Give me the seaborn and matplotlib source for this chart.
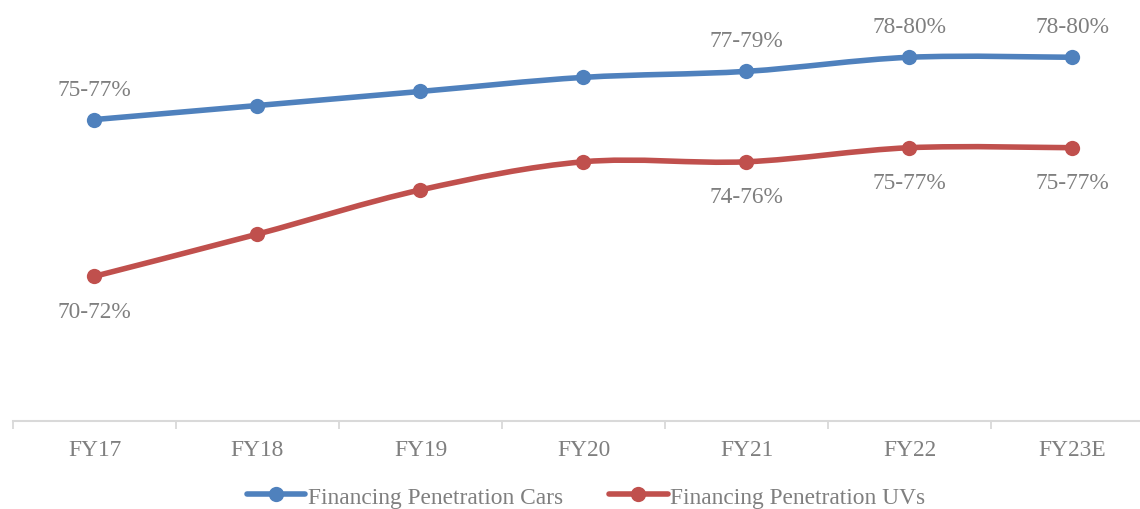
#!/usr/bin/env python3
# Financing penetration, cars vs UVs (smoothed lines, Excel style)

import numpy as np
from matplotlib import pyplot as plt
from matplotlib.path import Path
from matplotlib.patches import PathPatch
from matplotlib.lines import Line2D
import seaborn as sns

sns.set_style("white")
plt.rcParams['font.family'] = ['Liberation Serif', 'DejaVu Serif']

# Data -------------------------------------------------------------------------
years = ["FY17", "FY18", "FY19", "FY20", "FY21", "FY22", "FY23E"]
# plotted heights (arbitrary index scale)
cars = [77.0, 77.7, 78.4, 79.1, 79.4, 80.1, 80.1]
uvs = [69.2, 71.3, 73.5, 74.9, 74.9, 75.6, 75.6]
cars_labels = ["75-77%", "", "", "", "77-79%", "78-80%", "78-80%"]
uvs_labels = ["70-72%", "", "", "", "74-76%", "75-77%", "75-77%"]

BLUE = "#4f81bd"
RED = "#c0504d"
GREY = "#7f7f7f"
FS = 16.8


def smooth_path(xs, ys):
    # Excel-like smoothed line: cubic bezier between points (catmull-rom style)
    pts = np.column_stack([xs, ys]).astype(float)
    n = len(pts)
    verts = [pts[0]]
    codes = [Path.MOVETO]
    for i in range(n - 1):
        p0 = pts[i - 1] if i > 0 else pts[i]
        p1 = pts[i]
        p2 = pts[i + 1]
        p3 = pts[i + 2] if i + 2 < n else pts[i + 1]
        c1 = p1 + (p2 - p0) / 6.0
        c2 = p2 - (p3 - p1) / 6.0
        verts += [c1, c2, p2]
        codes += [Path.CURVE4] * 3
    return Path(verts, codes)


fig = plt.figure(figsize=(11.4, 5.1), dpi=100)
ax = fig.add_axes([13 / 1140, 88 / 510, 1141 / 1140, 422 / 510])

x = np.arange(len(years))
for vals, col in [(cars, BLUE), (uvs, RED)]:
    ax.add_patch(PathPatch(smooth_path(x, vals), facecolor="none",
                           edgecolor=col, lw=4, capstyle="round"))
    sns.lineplot(x=x, y=vals, ax=ax, color=col, lw=0, marker="o",
                 markersize=11, markeredgewidth=0, legend=False)

for xi, v, lab in zip(x, cars, cars_labels):
    if lab:
        ax.annotate(lab, (xi, v), xytext=(0, 22), textcoords="offset points",
                    ha="center", va="center", fontsize=FS, color=GREY)
for xi, v, lab in zip(x, uvs, uvs_labels):
    if lab:
        ax.annotate(lab, (xi, v), xytext=(0, -25), textcoords="offset points",
                    ha="center", va="center", fontsize=FS, color=GREY)

ax.set_xlim(-0.5, 6.5)
ax.set_ylim(62, 83)
ax.set_xticks(x)
ax.set_xticklabels(years, fontsize=FS, color=GREY)
ax.set_xticks(np.arange(-0.5, 7, 1), minor=True)
ax.tick_params(axis="x", which="major", bottom=False, length=0, pad=13)
ax.tick_params(axis="x", which="minor", bottom=True, length=6,
               color="#d9d9d9", width=1.3, direction="out")
ax.set_yticks([])
for s in ["top", "right", "left"]:
    ax.spines[s].set_visible(False)
ax.spines["bottom"].set_color("#d9d9d9")
ax.spines["bottom"].set_linewidth(1.5)

handles = [Line2D([], [], color=BLUE, lw=4, marker="o", markersize=11,
                  markeredgewidth=0),
           Line2D([], [], color=RED, lw=4, marker="o", markersize=11,
                  markeredgewidth=0)]
fig.legend(handles, ["Financing Penetration Cars", "Financing Penetration UVs"],
           loc="center", bbox_to_anchor=(586 / 1140, 1 - 498 / 510), ncol=2,
           frameon=False, fontsize=FS, labelcolor=GREY, handlelength=2.5,
           handletextpad=0.1, columnspacing=2.0)

fig.savefig("out.png", dpi=100)
